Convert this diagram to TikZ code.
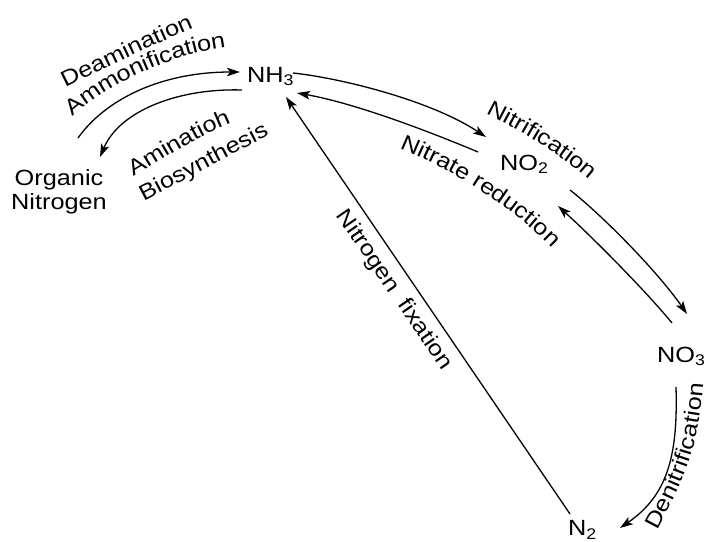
\documentclass[tikz,border=0pt]{standalone}
\usepackage{fontspec}
\setmainfont{Liberation Sans}[FakeStretch=1.15]
\usetikzlibrary{arrows.meta,decorations.text}
\newcommand\lblfont{\fontsize{22}{24}\selectfont}
\begin{document}
\begin{tikzpicture}[x=1pt,y=-1pt,
  chem/.style={inner sep=0pt, font=\lblfont},
  lbl/.style={inner sep=0pt, font=\lblfont},
  arr/.style={line width=1.3pt, -{Stealth[length=13pt,width=8.5pt,inset=3pt]}},
  curvedlbl/.style={decorate, decoration={text along path, text align=center, raise=-5.7pt, text={|\lblfont|#1}}}
]
\useasboundingbox (0,0) rectangle (707,541);

% species
\node[chem, anchor=base west] (nh3) at (247,82) {NH\textsubscript{3}};
\node[lbl, align=center] (org) at (59,192) {Organic\\Nitrogen};
\node[chem, anchor=base west] (no2) at (500,170) {NO\textsubscript{2}};
\node[chem, anchor=base west] (no3) at (657,362) {NO\textsubscript{3}};
\node[chem, anchor=base west] (n2) at (568,535.5) {N\textsubscript{2}};

% connector end points
\coordinate (orgUp) at (78,138);
\coordinate (nhIn) at (240,72);
\coordinate (nhOut) at (242,90);
\coordinate (orgIn) at (100,157);
\coordinate (nhR) at (293,73);
\coordinate (noIn) at (486,137);
\coordinate (noOut) at (478,152);
\coordinate (nhRin) at (297,93);
\coordinate (noDown) at (570,190);
\coordinate (nthIn) at (687,314);
\coordinate (nthOut) at (672,323);
\coordinate (noUp) at (558,206);
\coordinate (nthDen) at (676,387);
\coordinate (ntwoIn) at (620,528);
\coordinate (ntwoOut) at (570,514);
\coordinate (nhFix) at (286,97);

% connectors
\draw[arr] (orgUp) .. controls (105,100) and (160,72) .. (nhIn);
\draw[arr] (nhOut) .. controls (180,88) and (120,110) .. (orgIn);
\draw[arr] (nhR) .. controls (340,78) and (430,100) .. (noIn);
\draw[arr] (noOut) .. controls (445,138) and (360,104) .. (nhRin);
\draw[arr] (noDown) .. controls (602,215) and (658,272) .. (nthIn);
\draw[arr] (nthOut) .. controls (645,290) and (590,235) .. (noUp);
\draw[arr] (nthDen) .. controls (678,455) and (668,495) .. (ntwoIn);
\draw[arr] (ntwoOut) -- (nhFix);

% labels
\path[curvedlbl=Deamination] (42,93) -- (60,84) .. controls (100,64) and (150,40) .. (195,21) -- (213,13);
\path[curvedlbl=Ammonification] (50,131) -- (64,117) .. controls (95,85) and (165,48) .. (232,41) -- (252,39);
\path[curvedlbl=Aminatioh] (111,183) -- (128,173) .. controls (162,153) and (195,131) .. (231,117) -- (250,110);
\path[curvedlbl=Biosynthesis] (122,206) -- (286,120);
\path[curvedlbl=Nitrification] (464,96) -- (482,105) .. controls (515,122) and (560,145) .. (598,180) -- (613,194);
\path[curvedlbl={Nitrate reduction}] (377,134) -- (396,141) .. controls (450,162) and (515,200) .. (560,248) -- (574,263);
\path[curvedlbl=Denitrification] (641,547) -- (651,530) .. controls (681,475) and (694,440) .. (698,381) -- (699,361);
\node[lbl, rotate=-55.4] (fix) at (394,290) {Nitrogen\hspace{0.6em}fixation};
\end{tikzpicture}
\end{document}
